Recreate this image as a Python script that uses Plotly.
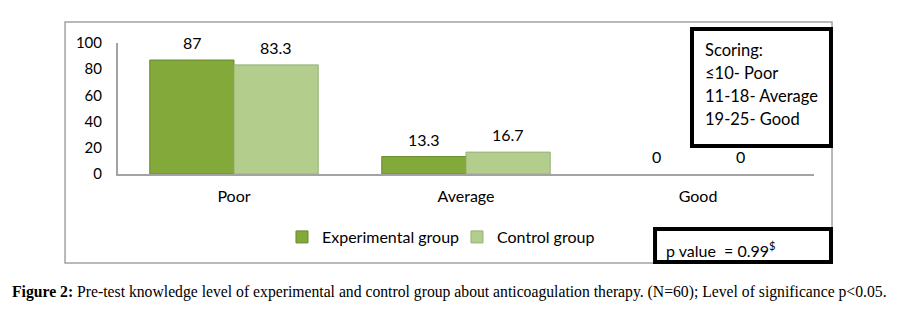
import plotly.graph_objects as go

categories = ["Poor", "Average", "Good"]
experimental = [87, 13.3, 0]
control = [83.3, 16.7, 0]
series_names = ["Experimental group", "Control group"]
y_ticks = [0, 20, 40, 60, 80, 100]
scoring_lines = ["Scoring:", "≤10- Poor", "11-18- Average", "19-25- Good"]
p_value_text = "p value\u00a0 = 0.99<sup>$</sup>"
caption = ("<b>Figure 2:</b> Pre-test knowledge level of experimental and control group "
           "about anticoagulation therapy. (N=60); Level of significance p<0.05.")

FONT = "Lato"
BLACK = "#000000"
AXIS_GRAY = "#a3a3a3"

fig = go.Figure()
fig.add_trace(go.Bar(x=categories, y=experimental, name=series_names[0],
                     marker=dict(color="#83a93b",
                                 line=dict(color="#668a2c",
                                           width=[1 if v else 0 for v in experimental]))))
fig.add_trace(go.Bar(x=categories, y=control, name=series_names[1],
                     marker=dict(color="#b3ce8c",
                                 line=dict(color="#98b077",
                                           width=[1 if v else 0 for v in control]))))

annotations = []
for vals, shift in ((experimental, -42), (control, 42)):
    for c, v in zip(categories, vals):
        annotations.append(dict(x=c, y=v, xref="x", yref="y", text=f"{v:g}",
                                showarrow=False, xshift=shift, yshift=17.5,
                                yanchor="middle", font=dict(family=FONT, size=16, color=BLACK)))

# scoring box text, one line each (23 px line pitch)
for i, line in enumerate(scoring_lines):
    annotations.append(dict(x=0.8405, y=0.9466 - i * 0.1756, xref="paper", yref="paper",
                            xanchor="left", yanchor="middle", align="left", showarrow=False,
                            text=line, font=dict(family=FONT, size=16.5, color=BLACK)))
# p value
annotations.append(dict(x=0.784, y=-0.58, xref="paper", yref="paper", xanchor="left", yanchor="middle",
                        showarrow=False, text=p_value_text,
                        font=dict(family=FONT, size=16, color=BLACK)))
# caption
annotations.append(dict(x=-0.155, y=-0.901, xref="paper", yref="paper", xanchor="left", yanchor="middle",
                        showarrow=False, text=caption,
                        font=dict(family="Liberation Serif", size=15.7, color=BLACK)))

shapes = [
    # outer chart frame
    dict(type="rect", xref="paper", yref="paper", x0=-0.0761, x1=1.0259, y0=-0.679, y1=1.160,
         line=dict(color=AXIS_GRAY, width=1.5), layer="below"),
    # scoring box
    dict(type="rect", xref="paper", yref="paper", x0=0.8247, x1=1.0244, y0=0.2137, y1=1.107,
         line=dict(color=BLACK, width=4), fillcolor="white", layer="above"),
    # p value box
    dict(type="rect", xref="paper", yref="paper", x0=0.7716, x1=1.0244, y0=-0.6718, y1=-0.4198,
         line=dict(color=BLACK, width=4), fillcolor="white", layer="above"),
]

# the page body adds an 8 px margin, so the figure is 8 px smaller and offset accordingly
fig.update_layout(
    width=898, height=302,
    margin=dict(l=110, r=92, t=35, b=136, autoexpand=False),
    paper_bgcolor="white", plot_bgcolor="white",
    barmode="group", bargap=0.274, bargroupgap=0,
    font=dict(family=FONT, size=16, color=BLACK),
    showlegend=True,
    legend=dict(orientation="h", x=0.2356, y=-0.481, xanchor="left", yanchor="middle",
                entrywidth=130, entrywidthmode="pixels",
                font=dict(family=FONT, size=16, color=BLACK), bgcolor="rgba(0,0,0,0)",
                itemclick=False, itemdoubleclick=False),
    annotations=annotations,
    shapes=shapes,
    xaxis=dict(showline=True, linecolor=AXIS_GRAY, linewidth=2, showgrid=False, zeroline=False,
               ticks="", ticklabelstandoff=7, tickfont=dict(family=FONT, size=16, color=BLACK),
               fixedrange=True),
    yaxis=dict(range=[0, 100], tickvals=y_ticks, showline=True, linecolor=AXIS_GRAY, linewidth=2,
               showgrid=False, zeroline=False, ticks="", ticklabelstandoff=11,
               tickfont=dict(family=FONT, size=15, color=BLACK), fixedrange=True),
)

fig.write_html("out.html", config={"displayModeBar": False})
